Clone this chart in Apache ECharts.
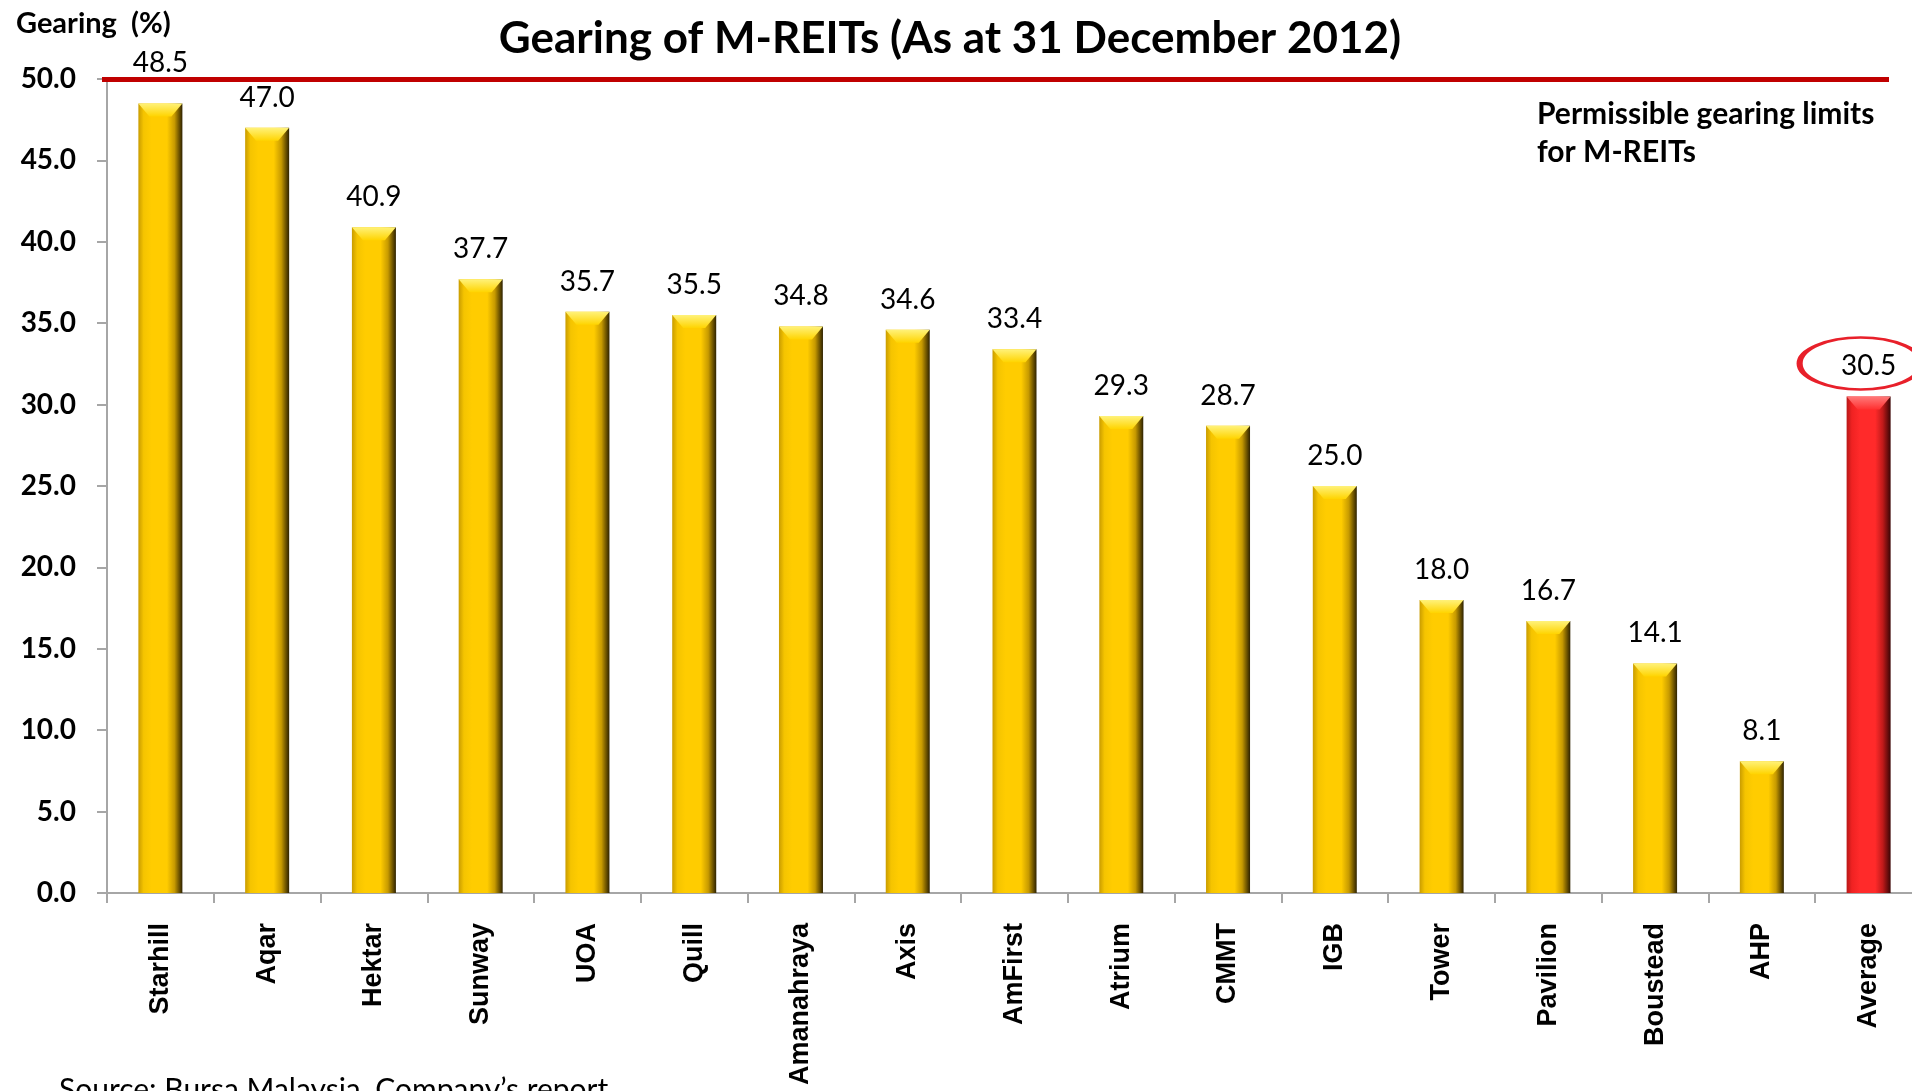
<!DOCTYPE html>
<html>
<head>
<meta charset="utf-8">
<script src="https://cdn.jsdelivr.net/npm/echarts@6/dist/echarts.min.js"></script>
<style>
  html, body { margin: 0; padding: 0; background: #fff; overflow: hidden; }
  #chart { width: 1922px; height: 1091px; }
</style>
</head>
<body>
<div id="chart"></div>
<script>
const categories = ['Starhill', 'Aqar', 'Hektar', 'Sunway', 'UOA', 'Quill', 'Amanahraya', 'Axis', 'AmFirst', 'Atrium', 'CMMT', 'IGB', 'Tower', 'Pavilion', 'Boustead', 'AHP', 'Average']
const gearing = [48.5, 47.0, 40.9, 37.7, 35.7, 35.5, 34.8, 34.6, 33.4, 29.3, 28.7, 25.0, 18.0, 16.7, 14.1, 8.1, 30.5]
const gearingLimit = 50
const yTicks = [0, 5, 10, 15, 20, 25, 30, 35, 40, 45, 50]

const chart = echarts.init(document.getElementById('chart'))

const gold = new echarts.graphic.LinearGradient(0, 0, 1, 0, [
  { offset: 0, color: '#c99c00' },
  { offset: 0.12, color: '#f5c400' },
  { offset: 0.3, color: '#ffcc00' },
  { offset: 0.65, color: '#ffcc00' },
  { offset: 0.82, color: '#c79a00' },
  { offset: 1, color: '#2e2200' },
])
const red = new echarts.graphic.LinearGradient(0, 0, 1, 0, [
  { offset: 0, color: '#b81818' },
  { offset: 0.12, color: '#f02222' },
  { offset: 0.3, color: '#ff2a2a' },
  { offset: 0.65, color: '#ff2a2a' },
  { offset: 0.82, color: '#c01a1a' },
  { offset: 1, color: '#3a0505' },
])
const goldTop = new echarts.graphic.LinearGradient(0, 0, 0, 1, [
  { offset: 0, color: '#fff27a' },
  { offset: 1, color: '#ffd400' },
])
const redTop = new echarts.graphic.LinearGradient(0, 0, 0, 1, [
  { offset: 0, color: '#ff7a7a' },
  { offset: 1, color: '#ff3030' },
])

const last = categories.length - 1

const barData = gearing.map((v, i) => {
  const item = { value: v, itemStyle: { color: i === last ? red : gold } }
  if (i === 0)
    item.label = { offset: [0, -10] }
  return item
})
const capData = gearing.map((v, i) => ({ value: v, itemStyle: { color: i === last ? redTop : goldTop } }))

chart.setOption({
  backgroundColor: '#fff',
  animation: false,
  title: [
    {
      text: 'Gearing of M-REITs (As at 31 December 2012)',
      left: 945,
      top: 12,
      textAlign: 'center',
      textStyle: { fontFamily: 'Lato', fontWeight: 'bold', fontSize: 44, color: '#000' },
    },
    {
      text: 'Gearing  (%)',
      left: 11,
      top: 4,
      textStyle: { fontFamily: 'Lato', fontWeight: 'bold', fontSize: 29, color: '#000' },
    },
    {
      text: 'Source: Bursa Malaysia, Company\u2019s report',
      left: 54,
      top: 1070,
      textStyle: { fontFamily: 'Lato', fontWeight: 'normal', fontSize: 30, color: '#000' },
    },
  ],
  grid: { left: 107, top: 79, right: 0, bottom: 198, containLabel: false },
  xAxis: {
    type: 'category',
    data: categories,
    axisLine: { lineStyle: { color: '#a6a6a6', width: 2 } },
    axisTick: { show: true, length: 10, lineStyle: { color: '#a6a6a6', width: 2 } },
    axisLabel: {
      rotate: 90,
      margin: 30,
      interval: 0,
      fontFamily: 'Liberation Sans',
      fontWeight: 'bold',
      fontSize: 27,
      color: '#000',
    },
  },
  yAxis: {
    type: 'value',
    min: yTicks[0],
    max: yTicks[yTicks.length - 1],
    interval: 5,
    splitLine: { show: false },
    axisLine: { show: true, lineStyle: { color: '#a6a6a6', width: 2 } },
    axisTick: { show: true, length: 10, lineStyle: { color: '#a6a6a6', width: 2 } },
    axisLabel: {
      margin: 31,
      fontFamily: 'Lato',
      fontWeight: 'bold',
      fontSize: 28,
      color: '#000',
      formatter: v => v.toFixed(1),
    },
  },
  series: [
    {
      type: 'bar',
      data: barData,
      barWidth: 44,
      label: {
        show: true,
        position: 'top',
        distance: 16,
        fontFamily: 'Lato',
        fontSize: 28,
        color: '#000',
        formatter: p => p.value.toFixed(1),
      },
      markLine: {
        silent: true,
        symbol: 'none',
        label: { show: false },
        lineStyle: { color: '#c00000', width: 5, type: 'solid' },
        data: [[{ yAxis: gearingLimit, x: 102 }, { yAxis: gearingLimit, x: 1889 }]],
      },
      markPoint: {
        silent: true,
        symbol: 'circle',
        symbolSize: [122, 52],
        symbolOffset: [-8, -33],
        label: { show: false },
        itemStyle: { color: 'rgba(0,0,0,0)', borderColor: '#e8202a', borderWidth: 4 },
        data: [{ coord: [categories[last], gearing[last]] }],
      },
      z: 2,
    },
    {
      type: 'pictorialBar',
      data: capData,
      symbol: 'path://M0,0 L20,0 L15,6 L5,6 Z',
      symbolSize: [44, 13],
      symbolPosition: 'end',
      symbolOffset: [0, 0],
      z: 3,
      silent: true,
    },
  ],
  graphic: [
    {
      type: 'text',
      left: 1537,
      top: 95,
      style: {
        text: 'Permissible gearing limits\nfor M-REITs',
        fontFamily: 'Lato',
        fontWeight: 'bold',
        fontSize: 30,
        lineHeight: 38,
        fill: '#000',
      },
    },
  ],
})
</script>
</body>
</html>
